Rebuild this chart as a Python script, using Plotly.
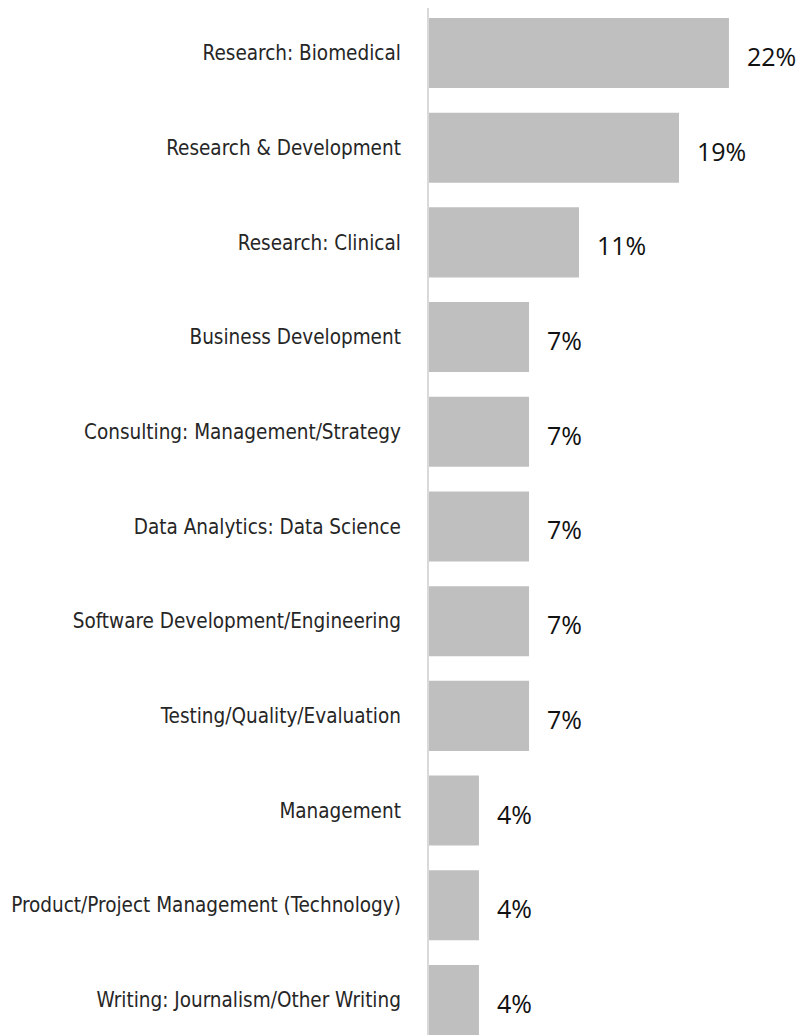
import plotly.graph_objects as go

categories = [
    'Research: Biomedical',
    'Research & Development',
    'Research: Clinical',
    'Business Development',
    'Consulting: Management/Strategy',
    'Data Analytics: Data Science',
    'Software Development/Engineering',
    'Testing/Quality/Evaluation',
    'Management',
    'Product/Project Management (Technology)',
    'Writing: Journalism/Other Writing',
]
# share of respondents, in percent
shares = [22.22, 18.52, 11.11, 7.41, 7.41, 7.41, 7.41, 7.41, 3.7, 3.7, 3.7]

fig = go.Figure(go.Bar(
    x=shares,
    y=categories,
    orientation='h',
    marker=dict(color='#bfbfbf', line=dict(width=0)),
    width=0.74,
    hoverinfo='skip',
))

# value labels beside each bar
for cat, val in zip(categories, shares):
    fig.add_annotation(
        x=val, y=cat, text='{:.0f}%'.format(val),
        xanchor='left', yanchor='middle', showarrow=False, xshift=16, yshift=-3,
        font=dict(family='Open Sans', size=25, color='#111111'),
    )

# page body keeps an 8px margin, so the figure is shifted up/left to compensate
fig.update_layout(
    width=801, height=1027,
    margin=dict(l=421, r=0, t=0, b=0),
    paper_bgcolor='white', plot_bgcolor='white',
    showlegend=False,
    xaxis=dict(range=[0, 28.15], visible=False, fixedrange=True),
    yaxis=dict(
        autorange=False, range=[10.37, -0.475], automargin=False,
        showline=True, linecolor='#d9d9d9', linewidth=2,
        showgrid=False, ticks='', ticklabelstandoff=22,
        tickfont=dict(family='Liberation Sans Narrow, DejaVu Sans Condensed, Open Sans',
                      size=20.5, color='#262626'),
    ),
)

fig.write_html('out.html')
